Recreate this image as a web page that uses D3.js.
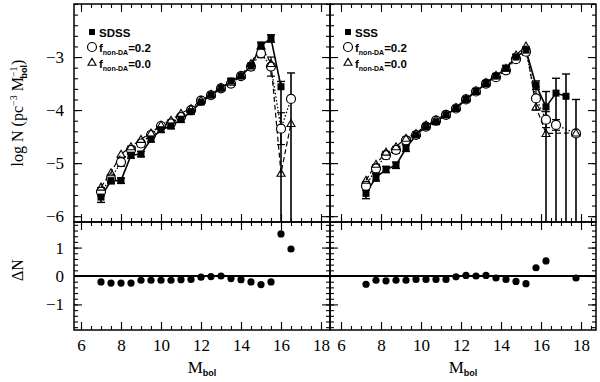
<!DOCTYPE html>
<html>
<head>
<meta charset="utf-8">
<script src="https://cdnjs.cloudflare.com/ajax/libs/d3/7.8.5/d3.min.js"></script>
<style>
  body { margin: 0; background: #fff; }
  svg { font-family: "Liberation Serif", "Times New Roman", serif; }
  .frame { fill: none; stroke: #000; stroke-width: 1.5; }
  .tick text { font-family: "Liberation Serif", serif; font-size: 17px; fill: #000; }
  .legend { font-family: "Liberation Sans", Arial, sans-serif; font-weight: bold; font-size: 11.5px; }
</style>
</head>
<body>
<svg id="chart" width="600" height="382"></svg>
<script>
// ---- data ----
var xTicks = [6, 8, 10, 12, 14, 16, 18];
var logTicks = [-6, -5, -4, -3];
var deltaTicks = [-1, 0, 1];

// left panel: SDSS
var sdssMbol = [7.0, 7.5, 8.0, 8.5, 9.0, 9.5, 10.0, 10.5, 11.0, 11.5, 12.0, 12.5, 13.0, 13.5, 14.0, 14.5, 15.0, 15.5, 16.0, 16.5];
var sdssLogN = [-5.64, -5.33, -5.33, -4.85, -4.83, -4.55, -4.37, -4.30, -4.18, -4.03, -3.85, -3.72, -3.59, -3.45, -3.36, -3.17, -2.78, -2.65, -3.56, -3.80];
var sdssErrUp = [0.10, 0.06, 0.05, 0.06, 0.05, 0.05, 0.05, 0.05, 0.05, 0.04, 0.04, 0.04, 0.04, 0.04, 0.04, 0.05, 0.06, 0.07, 0.10, 0.50];
var sdssErrDn = [0.10, 0.06, 0.05, 0.06, 0.05, 0.05, 0.05, 0.05, 0.05, 0.04, 0.04, 0.04, 0.04, 0.04, 0.04, 0.05, 0.06, 0.07, 3.00, 3.00];
var sdssNon02 = [-5.54, -5.29, -4.98, -4.75, -4.63, -4.47, -4.30, -4.25, -4.13, -4.00, -3.82, -3.72, -3.59, -3.50, -3.36, -3.18, -2.93, -3.18, -4.35, -3.79];
var sdssNon02Err = [0.08, 0.07, 0.08, 0.07, 0.06, 0.06, 0.05, 0.06, 0.05, 0.05, 0.04, 0.04, 0.04, 0.05, 0.05, 0.06, 0.08, 0.18, 0.30, 0];
var sdssNon00 = [-5.45, -5.18, -4.83, -4.69, -4.55, -4.43, -4.28, -4.19, -4.06, -3.97, -3.81, -3.70, -3.57, -3.47, -3.34, -3.12, -2.79, -3.12, -5.19, -4.25];
var sdssDelta = [-0.21, -0.25, -0.25, -0.25, -0.15, -0.15, -0.15, -0.15, -0.13, -0.12, -0.04, -0.02, 0.0, -0.09, -0.13, -0.21, -0.30, -0.21, 1.48, 0.95];

// right panel: SSS
var sssMbol = [7.25, 7.75, 8.25, 8.75, 9.25, 9.75, 10.25, 10.75, 11.25, 11.75, 12.25, 12.75, 13.25, 13.75, 14.25, 14.75, 15.25, 15.75, 16.25, 16.75, 17.25, 17.75];
var sssLogN = [-5.57, -5.27, -5.12, -5.04, -4.72, -4.47, -4.31, -4.22, -4.09, -3.97, -3.80, -3.65, -3.50, -3.36, -3.21, -3.00, -2.87, -3.53, -3.94, -3.68, -3.74, -4.44];
var sssErrUp = [0.10, 0.07, 0.06, 0.06, 0.06, 0.05, 0.05, 0.05, 0.05, 0.04, 0.04, 0.04, 0.04, 0.04, 0.05, 0.05, 0.06, 0.08, 0.29, 0.28, 0.42, 0.64];
var sssErrDn = [0.10, 0.07, 0.06, 0.06, 0.06, 0.05, 0.05, 0.05, 0.05, 0.04, 0.04, 0.04, 0.04, 0.04, 0.05, 0.05, 0.06, 0.08, 3.00, 3.00, 3.00, 3.00];
var sssNon02 = [-5.43, -5.10, -4.85, -4.75, -4.57, -4.47, -4.31, -4.20, -4.09, -3.97, -3.80, -3.65, -3.50, -3.38, -3.25, -3.04, -2.90, -3.78, -4.18, -4.28, null, -4.44];
var sssNon02Err = [0.08, 0.07, 0.07, 0.06, 0.06, 0.05, 0.05, 0.05, 0.05, 0.04, 0.04, 0.04, 0.04, 0.04, 0.05, 0.05, 0.06, 0.22, 0.15, 0.10, 0, 0];
var sssNon00 = [-5.32, -5.02, -4.79, -4.69, -4.53, -4.44, -4.28, -4.18, -4.08, -3.95, -3.78, -3.64, -3.48, -3.34, -3.21, -2.96, -2.79, -3.94, -4.44, null, null, -4.43];
var sssDelta = [-0.29, -0.15, -0.17, -0.15, -0.15, -0.12, -0.12, -0.12, -0.12, -0.03, 0.02, 0.0, 0.02, -0.07, -0.12, -0.19, -0.27, 0.29, 0.53, null, null, -0.07];

var svg = d3.select('#chart');

var top0 = 4, mid = 222, bot = 330;

var panels = [
  { name: 'SDSS', x0: 74, x1: 330, domain: [5.65, 18.45],
    mbol: sdssMbol, obs: sdssLogN, up: sdssErrUp, dn: sdssErrDn,
    m02: sdssNon02, m02err: sdssNon02Err, m00: sdssNon00, delta: sdssDelta, yLabels: true },
  { name: 'SSS', x0: 330, x1: 596, domain: [5.45, 18.75],
    mbol: sssMbol, obs: sssLogN, up: sssErrUp, dn: sssErrDn,
    m02: sssNon02, m02err: sssNon02Err, m00: sssNon00, delta: sssDelta, yLabels: false }
];

var yTop = d3.scaleLinear().domain([-6.11, -2.0]).range([mid, top0]);
var yBot = d3.scaleLinear().domain([-1.9, 1.9]).range([bot, mid]);

function steps(a, b, s) {
  var out = [];
  for (var i = 0; a + i * s <= b + 1e-9; i++) out.push(+(a + i * s).toFixed(3));
  return out;
}

// draw one set of inward ticks, optionally with labels
function tickSet(g, axisFn, scale, values, size, fmt, pad) {
  g.call(axisFn(scale).tickValues(values).tickSize(-size).tickPadding(pad || 3)
      .tickFormat(fmt || ''));
  g.select('.domain').remove();
  g.selectAll('line').attr('stroke', '#000').attr('stroke-width', 1.1);
}

function frameTicks(g, x, y, yMajor, yMinor, xLabels, yLabels) {
  var h0 = y.range()[1], h1 = y.range()[0];
  var xMinor = steps(6, 18.5, 0.5).filter(function (v) { return v >= x.domain()[0] && v <= x.domain()[1]; });

  tickSet(g.append('g').attr('transform', 'translate(0,' + h1 + ')'), d3.axisBottom, x, xMinor, 4);
  tickSet(g.append('g').attr('transform', 'translate(0,' + h1 + ')'), d3.axisBottom, x, xTicks, 8,
      xLabels ? d3.format('d') : '', 9);
  tickSet(g.append('g').attr('transform', 'translate(0,' + h0 + ')'), d3.axisTop, x, xMinor, 4);
  tickSet(g.append('g').attr('transform', 'translate(0,' + h0 + ')'), d3.axisTop, x, xTicks, 8);

  tickSet(g.append('g').attr('transform', 'translate(' + x.range()[0] + ',0)'), d3.axisLeft, y, yMinor, 4);
  tickSet(g.append('g').attr('transform', 'translate(' + x.range()[0] + ',0)'), d3.axisLeft, y, yMajor, 8,
      yLabels ? d3.format('d') : '', 10);
  tickSet(g.append('g').attr('transform', 'translate(' + x.range()[1] + ',0)'), d3.axisRight, y, yMinor, 4);
  tickSet(g.append('g').attr('transform', 'translate(' + x.range()[1] + ',0)'), d3.axisRight, y, yMajor, 8);

  g.append('rect').attr('class', 'frame')
    .attr('x', x.range()[0]).attr('y', h0)
    .attr('width', x.range()[1] - x.range()[0]).attr('height', h1 - h0);
}

var defs = svg.append('defs');

panels.forEach(function (p, pi) {
  var x = d3.scaleLinear().domain(p.domain).range([p.x0, p.x1]);
  var g = svg.append('g');

  defs.append('clipPath').attr('id', 'clip' + pi)
    .append('rect').attr('x', p.x0).attr('y', top0)
    .attr('width', p.x1 - p.x0).attr('height', mid - top0);

  var pts = p.mbol.map(function (m, i) {
    return { x: m, obs: p.obs[i], up: p.up[i], dn: p.dn[i],
             m02: p.m02[i], e02: p.m02err[i], m00: p.m00[i], d: p.delta[i] };
  });
  // the faintest observed bin has no joined symbol, only its error bar
  var joined = pts.slice(0, pts.length - 1);

  var line = function (key) {
    return d3.line().x(function (d) { return x(d.x); }).y(function (d) { return yTop(d[key]); });
  };

  var plot = g.append('g').attr('clip-path', 'url(#clip' + pi + ')');

  // model and observed curves
  plot.append('path')
    .attr('d', line('m00')(pts.filter(function (d) { return d.m00 != null; })))
    .attr('fill', 'none').attr('stroke', '#000').attr('stroke-width', 1.2)
    .attr('stroke-dasharray', '5,3');
  plot.append('path')
    .attr('d', line('m02')(pts.filter(function (d) { return d.m02 != null; })))
    .attr('fill', 'none').attr('stroke', '#000').attr('stroke-width', 1.3)
    .attr('stroke-dasharray', '1.5,2');
  plot.append('path')
    .attr('d', line('obs')(joined))
    .attr('fill', 'none').attr('stroke', '#000').attr('stroke-width', 1.6);

  // error bars of the 0.2 model
  var mb = plot.selectAll('.mb').data(pts.filter(function (d) { return d.m02 != null && d.e02 > 0; }))
    .enter().append('g').attr('class', 'mb');
  mb.append('line')
    .attr('x1', function (d) { return x(d.x); }).attr('x2', function (d) { return x(d.x); })
    .attr('y1', function (d) { return yTop(d.m02 + d.e02); })
    .attr('y2', function (d) { return yTop(d.m02 - d.e02); })
    .attr('stroke', '#000').attr('stroke-width', 1.2);
  [1, -1].forEach(function (s) {
    mb.append('line')
      .attr('x1', function (d) { return x(d.x) - 4; }).attr('x2', function (d) { return x(d.x) + 4; })
      .attr('y1', function (d) { return yTop(d.m02 + s * d.e02); })
      .attr('y2', function (d) { return yTop(d.m02 + s * d.e02); })
      .attr('stroke', '#000').attr('stroke-width', 1.2);
  });

  // error bars of the observed sample
  var eb = plot.selectAll('.eb').data(pts).enter().append('g').attr('class', 'eb');
  eb.append('line')
    .attr('x1', function (d) { return x(d.x); }).attr('x2', function (d) { return x(d.x); })
    .attr('y1', function (d) { return yTop(d.obs + d.up); })
    .attr('y2', function (d) { return yTop(d.obs - d.dn); })
    .attr('stroke', '#000').attr('stroke-width', 1.6);
  eb.append('line')
    .attr('x1', function (d) { return x(d.x) - 4; }).attr('x2', function (d) { return x(d.x) + 4; })
    .attr('y1', function (d) { return yTop(d.obs + d.up); })
    .attr('y2', function (d) { return yTop(d.obs + d.up); })
    .attr('stroke', '#000').attr('stroke-width', 1.4);
  eb.filter(function (d) { return d.dn < 1; }).append('line')
    .attr('x1', function (d) { return x(d.x) - 4; }).attr('x2', function (d) { return x(d.x) + 4; })
    .attr('y1', function (d) { return yTop(d.obs - d.dn); })
    .attr('y2', function (d) { return yTop(d.obs - d.dn); })
    .attr('stroke', '#000').attr('stroke-width', 1.4);

  // markers: open circles, open triangles, then filled squares on top
  plot.selectAll('.circ').data(pts.filter(function (d) { return d.m02 != null; })).enter().append('circle')
    .attr('cx', function (d) { return x(d.x); })
    .attr('cy', function (d) { return yTop(d.m02); })
    .attr('r', 4.5).attr('fill', '#fff').attr('stroke', '#000').attr('stroke-width', 1.2);
  plot.selectAll('.tri').data(pts.filter(function (d) { return d.m00 != null; })).enter().append('path')
    .attr('d', d3.symbol().type(d3.symbolTriangle).size(28))
    .attr('transform', function (d) { return 'translate(' + x(d.x) + ',' + (yTop(d.m00) + 0.8) + ')'; })
    .attr('fill', 'none').attr('stroke', '#000').attr('stroke-width', 1.1);
  plot.selectAll('.sq').data(joined).enter().append('rect')
    .attr('x', function (d) { return x(d.x) - 3.5; })
    .attr('y', function (d) { return yTop(d.obs) - 3.5; })
    .attr('width', 7).attr('height', 7).attr('fill', '#000');

  // residual panel
  g.append('line')
    .attr('x1', p.x0).attr('x2', p.x1)
    .attr('y1', yBot(0)).attr('y2', yBot(0))
    .attr('stroke', '#000').attr('stroke-width', 1.3)
    .attr('shape-rendering', 'crispEdges');
  g.selectAll('.res').data(pts.filter(function (d) { return d.d != null; })).enter().append('circle')
    .attr('cx', function (d) { return x(d.x); })
    .attr('cy', function (d) { return yBot(d.d); })
    .attr('r', 3.6).attr('fill', '#000');

  frameTicks(g, x, yTop, logTicks, steps(-6.0, -2.0, 0.2), false, p.yLabels);
  frameTicks(g, x, yBot, deltaTicks, steps(-1.8, 1.8, 0.2), true, p.yLabels);

  // legend
  var lg = g.append('g').attr('class', 'legend')
    .attr('transform', 'translate(' + (p.x0 + 18) + ',32)');
  lg.append('rect').attr('x', -3).attr('y', -3).attr('width', 6).attr('height', 6).attr('fill', '#000');
  lg.append('text').attr('x', 7).attr('y', 4.5).text(p.name);
  lg.append('circle').attr('cx', 0).attr('cy', 15).attr('r', 4.5)
    .attr('fill', '#fff').attr('stroke', '#000').attr('stroke-width', 1.2);
  lg.append('path').attr('d', d3.symbol().type(d3.symbolTriangle).size(28))
    .attr('transform', 'translate(0,31)')
    .attr('fill', '#fff').attr('stroke', '#000').attr('stroke-width', 1.1);
  ['0.2', '0.0'].forEach(function (v, i) {
    var t = lg.append('text').attr('x', 7).attr('y', 19.5 + i * 16);
    t.append('tspan').text('f');
    t.append('tspan').attr('font-size', '7px').attr('dy', 3).text('non-DA');
    t.append('tspan').attr('dy', -3).text('=' + v);
  });

  // x axis title
  var xt = g.append('text').attr('x', (p.x0 + p.x1) / 2).attr('y', 373)
    .attr('text-anchor', 'middle').attr('font-size', '17px');
  xt.append('tspan').text('M');
  xt.append('tspan').attr('font-family', 'Liberation Sans, sans-serif').attr('font-weight', 'bold')
    .attr('font-size', '9px').attr('dy', 3).text('bol');
});

// y axis titles
var yl = svg.append('text').attr('transform', 'translate(23,113) rotate(-90)')
  .attr('text-anchor', 'middle').attr('font-size', '16px');
yl.append('tspan').text('log N  (pc');
yl.append('tspan').attr('font-size', '10px').attr('dy', -6).text('\u22123');
yl.append('tspan').attr('dy', 6).text('  M');
yl.append('tspan').attr('font-size', '10px').attr('dy', -6).text('\u22121');
yl.append('tspan').attr('font-size', '9px').attr('dx', -12).attr('dy', 10)
  .attr('font-family', 'Liberation Sans, sans-serif').attr('font-weight', 'bold').text('bol');
yl.append('tspan').attr('dy', -4).text(')');

svg.append('text').attr('transform', 'translate(23,270) rotate(-90)')
  .attr('text-anchor', 'middle').attr('font-size', '16px').text('\u0394N');
</script>
</body>
</html>
